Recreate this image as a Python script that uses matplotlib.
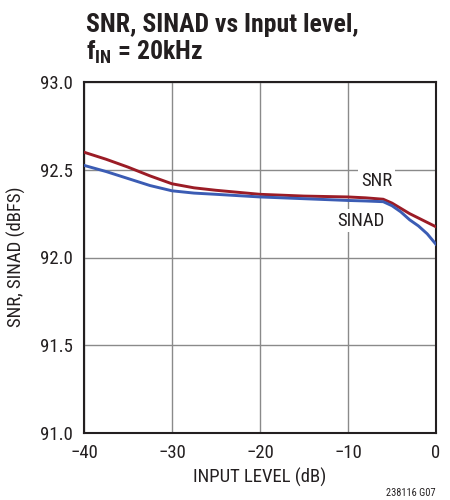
import matplotlib
matplotlib.use('Agg')
import matplotlib.pyplot as plt

plt.rcParams['font.family'] = ['Roboto Condensed', 'DejaVu Sans']
plt.rcParams['mathtext.fontset'] = 'custom'
plt.rcParams['mathtext.bf'] = 'Roboto Condensed:bold'
plt.rcParams['mathtext.rm'] = 'Roboto Condensed'
plt.rcParams['axes.unicode_minus'] = True

# input level (dB)
input_level = [-40, -37.5, -35, -32.5, -30, -27.5, -25, -20, -15, -10, -8, -6,
               -5, -4, -3, -2, -1, 0]
# SNR (dBFS)
snr = [92.60, 92.56, 92.515, 92.465, 92.42, 92.397, 92.383, 92.36, 92.35, 92.345,
       92.34, 92.332, 92.31, 92.28, 92.25, 92.225, 92.20, 92.175]
# SINAD (dBFS)
sinad = [92.525, 92.49, 92.45, 92.41, 92.38, 92.367, 92.36, 92.345, 92.335, 92.325,
         92.322, 92.318, 92.295, 92.26, 92.215, 92.18, 92.135, 92.075]

xticks = [-40, -30, -20, -10, 0]
yticks = [91.0, 91.5, 92.0, 92.5, 93.0]

fig = plt.figure(figsize=(4.5, 5), dpi=100)
ax = fig.add_axes([84 / 450, 1 - 433 / 500, 352 / 450, 351 / 500])

ax.plot(input_level, snr, color='#9b1c26', lw=2.1, zorder=3)
ax.plot(input_level, sinad, color='#3b5cb4', lw=2.1, zorder=3)

ax.set_xlim(-40, 0)
ax.set_ylim(91, 93)
ax.set_xticks(xticks)
ax.set_yticks(yticks)
ax.set_xticklabels(['\u221240', '\u221230', '\u221220', '\u221210', '0'])
ax.set_yticklabels(['%.1f' % v for v in yticks])
ax.tick_params(length=0, labelsize=13.5, colors='#231f20')
ax.tick_params(axis='x', pad=8)
ax.tick_params(axis='y', pad=8)
ax.grid(True, color='#8a8a8a', lw=1.0)
ax.set_axisbelow(True)
for s in ax.spines.values():
    s.set_linewidth(1.5)
    s.set_color('#231f20')

# axis labels
fig.text(260 / 450, 1 - 477 / 500, 'INPUT LEVEL (dB)', fontsize=13.5, color='#231f20',
         ha='center', va='center')
fig.text(16.5 / 450, 1 - 257 / 500, 'SNR, SINAD (dBFS)', fontsize=13.5, color='#231f20',
         ha='center', va='center', rotation=90)

ax.text(-6.76, 92.436, 'SNR', fontsize=13.5, ha='center', va='center', color='#231f20',
        bbox=dict(facecolor='white', edgecolor='none', pad=2), zorder=2)
ax.text(-8.52, 92.21, 'SINAD', fontsize=13.5, ha='center', va='center', color='#231f20',
        bbox=dict(facecolor='white', edgecolor='none', pad=2), zorder=2)

fig.text(86 / 450, 1 - 32 / 500, 'SNR, SINAD vs Input level,', fontsize=18.5,
         fontweight='bold', color='#231f20', ha='left', va='baseline')
fig.text(86 / 450, 1 - 59 / 500, 'f$_{\\mathbf{IN}}$ = 20kHz', fontsize=18.5,
         fontweight='bold', color='#231f20', ha='left', va='baseline')
fig.text(436 / 450, 1 - 496 / 500, '238116 G07', fontsize=7.5, color='#231f20',
         ha='right', va='baseline')

fig.savefig('out.png', dpi=100)
